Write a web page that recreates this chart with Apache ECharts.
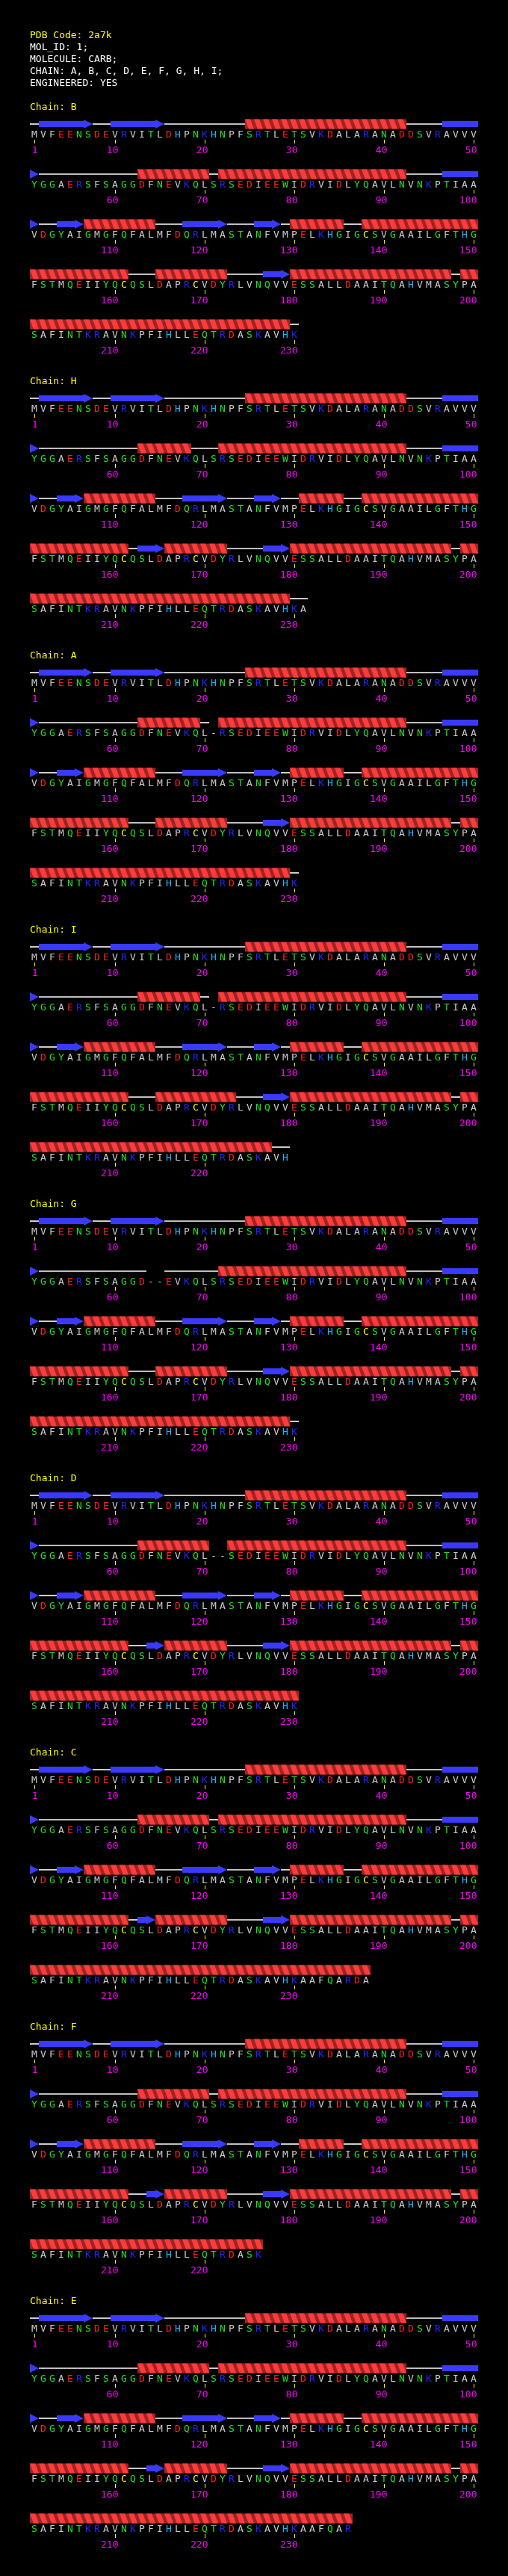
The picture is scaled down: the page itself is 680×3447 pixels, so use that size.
<!DOCTYPE html>
<html>
<head>
<meta charset="utf-8">
<script src="https://cdn.jsdelivr.net/npm/echarts@6/dist/echarts.min.js"></script>
<style>
html,body{margin:0;padding:0;background:#000;}
#chart{width:680px;height:3447px;}
</style>
</head>
<body>
<div id="chart"></div>
<script>
// ---------------- DATA ----------------
const headerLines = ["PDB Code: 2a7k", "MOL_ID: 1;", "MOLECULE: CARB;", "CHAIN: A, B, C, D, E, F, G, H, I;", "ENGINEERED: YES"];

const residues =
  "MVFEENSDEVRVITLDHPNKHNPFSRTLETSVKDALARANADDSVRAVVV" +
  "YGGAERSFSAGGDFNEVKQLSRSEDIEEWIDRVIDLYQAVLNVNKPTIAA" +
  "VDGYAIGMGFQFALMFDQRLMASTANFVMPELKHGIGCSVGAAILGFTHG" +
  "FSTMQEIIYQCQSLDAPRCVDYRLVNQVVESSALLDAAITQAHVMASYPA" +
  "SAFINTKRAVNKPFIHLLEQTRDASKAVHKAAFQARDA";

const chainIds = ["B", "H", "A", "I", "G", "D", "C", "F", "E"];
const chainLengths = [230, 231, 230, 229, 230, 230, 238, 226, 236];
const chainGaps = [[], [], [71], [71], [64, 65], [71, 72], [], [], []];

const chainHelices = [
  [[25,42],[63,70],[72,92],[107,114],[130,135],[138,161],[165,172],[180,197],[199,229]], // B
  [[25,42],[63,68],[72,92],[107,114],[131,135],[138,161],[166,172],[180,197],[199,229]], // H
  [[25,42],[63,69],[72,92],[107,114],[130,135],[138,161],[165,172],[180,197],[199,229]], // A
  [[25,42],[63,69],[72,92],[107,114],[130,135],[138,161],[165,173],[180,197],[199,227]], // I
  [[25,42],[72,92],[107,114],[130,135],[138,161],[165,172],[180,197],[199,229]],         // G
  [[25,42],[63,70],[73,92],[107,114],[130,135],[138,161],[166,172],[180,197],[199,230]], // D
  [[25,42],[63,70],[72,92],[107,114],[130,135],[138,161],[165,172],[180,197],[199,238]], // C
  [[25,42],[63,70],[72,92],[107,114],[131,135],[138,161],[166,172],[180,197],[199,226]], // F
  [[25,42],[63,70],[72,92],[107,114],[130,135],[138,161],[166,172],[180,197],[199,236]]  // E
];

const chainStrands = [
  [[2,7],[10,15],[47,51],[97,101],[104,106],[118,122],[126,128],[177,179]],            // B
  [[2,7],[10,15],[47,51],[97,101],[104,106],[118,122],[126,128],[163,165],[177,179]],  // H
  [[2,7],[10,15],[47,51],[97,101],[104,106],[118,122],[126,128],[177,179]],            // A
  [[2,7],[10,15],[47,51],[97,101],[104,106],[118,122],[126,128],[177,179]],            // I
  [[2,7],[10,15],[47,51],[97,101],[104,106],[118,122],[126,128],[177,179]],            // G
  [[2,7],[10,15],[47,51],[97,101],[104,106],[118,122],[126,128],[164,165],[177,179]],  // D
  [[2,7],[10,15],[47,51],[97,101],[104,106],[118,122],[126,128],[163,164],[177,179]],  // C
  [[2,7],[10,15],[47,51],[97,101],[104,106],[118,122],[126,128],[164,165],[177,179]],  // F
  [[2,7],[10,15],[47,51],[97,101],[104,106],[118,122],[126,128],[164,165],[177,179]]   // E
];

// ---------------- LAYOUT / STYLE ----------------
const ROW_LEN = 50;
const FIRST_TRACK = 166, ROW_STEP = 67, CHAIN_STEP = 367;
const FONT = '13px "DejaVu Sans Mono", "Liberation Mono", monospace';
const HELIX_LIGHT = '#ff3b3b', HELIX_DARK = '#9c2424', STRAND = '#3a3aff';

function residueColor(c) {
  if ('DE'.indexOf(c) >= 0) return '#ff2020';
  if ('KR'.indexOf(c) >= 0) return '#2424ff';
  if (c === 'H') return '#1eb4ff';
  if (c === 'C') return '#ffff00';
  if ('GSTNQYW'.indexOf(c) >= 0) return '#22e022';
  return '#cccccc';
}

function posRow(p) { return Math.floor((p - 1) / ROW_LEN); }
function posCol(p) { return (p - 1) % ROW_LEN + 1; }

function buildTrackItems(k) {
  const len = chainLengths[k];
  const type = new Array(len + 1).fill('C');
  chainGaps[k].forEach(p => { type[p] = 'G'; });
  chainHelices[k].forEach(([s, e]) => { for (let i = s; i <= e; i++) type[i] = 'H'; });
  chainStrands[k].forEach(([s, e]) => { for (let i = s; i <= e; i++) type[i] = 'E'; });
  const items = [];
  function addSplit(s, e, kind) {
    for (let r = posRow(s); r <= posRow(e); r++) {
      const ps = Math.max(s, r * ROW_LEN + 1), pe = Math.min(e, r * ROW_LEN + ROW_LEN);
      items.push([posCol(ps), posCol(pe), r, kind, (kind === 2 && pe === e) ? 1 : 0]);
    }
  }
  // coil runs
  let p = 1;
  while (p <= len) {
    if (type[p] === 'C') {
      let q = p;
      while (q + 1 <= len && type[q + 1] === 'C' && posRow(q + 1) === posRow(p)) q++;
      items.push([posCol(p), posCol(q), posRow(p), 0, 0]);
      p = q + 1;
    } else p++;
  }
  chainHelices[k].forEach(([s, e]) => addSplit(s, e, 1));
  chainStrands[k].forEach(([s, e]) => addSplit(s, e, 2));
  return items;
}

function renderTrack(params, api) {
  const cs = api.value(0), ce = api.value(1), row = api.value(2), kind = api.value(3), head = api.value(4);
  const L = api.coord([cs - 0.5, row]);
  const R = api.coord([ce + 0.5, row]);
  const cw = api.size([1, 0])[0];
  const yc = L[1], x0 = L[0], x1 = R[0];
  if (kind === 0) {
    return { type: 'line', shape: { x1: x0, y1: yc, x2: x1, y2: yc }, style: { stroke: '#ffffff', lineWidth: 1.6 } };
  }
  if (kind === 2) {
    const children = [];
    const barEnd = head ? x1 - cw : x1;
    if (barEnd > x0 + 0.5) children.push({ type: 'rect', shape: { x: x0, y: yc - 4, width: barEnd - x0, height: 8 }, style: { fill: STRAND } });
    if (head) children.push({ type: 'polygon', shape: { points: [[x1 - cw, yc - 6], [x1, yc], [x1 - cw, yc + 6]] }, style: { fill: STRAND } });
    return { type: 'group', children };
  }
  const children = [{ type: 'rect', shape: { x: x0, y: yc - 6.5, width: x1 - x0, height: 13 }, style: { fill: HELIX_DARK } }];
  for (let c = cs; c <= ce; c++) {
    const xa = api.coord([c - 0.5, row])[0];
    children.push({ type: 'polygon', shape: { points: [[xa, yc - 6.5], [xa + 0.6 * cw, yc - 6.5], [xa + cw, yc + 6.5], [xa + 0.4 * cw, yc + 6.5]] }, style: { fill: HELIX_LIGHT } });
  }
  return { type: 'group', children };
}

function makeResidueRenderer(seq) {
  return function (params, api) {
    const col = api.value(0), row = api.value(1), n = api.value(2);
    const pt = api.coord([col, row]);
    const ch = seq[n - 1];
    const children = [{
      type: 'text', x: pt[0], y: pt[1] + 14.5,
      style: { text: ch, fill: residueColor(ch), font: FONT, align: 'center', verticalAlign: 'middle' }
    }];
    if (n === 1 || n % 10 === 0) {
      children.push({ type: 'line', shape: { x1: pt[0] + 0.5, y1: pt[1] + 21, x2: pt[0] + 0.5, y2: pt[1] + 26 }, style: { stroke: '#ffff00', lineWidth: 1 } });
      children.push({
        type: 'text', x: pt[0] + 4.5, y: pt[1] + 35.5,
        style: { text: String(n), fill: '#ff00ff', font: FONT, align: 'right', verticalAlign: 'middle' }
      });
    }
    return { type: 'group', children };
  };
}

// ---------------- CHART ----------------
const chart = echarts.init(document.getElementById('chart'), null, { renderer: 'canvas', width: 680, height: 3447 });

const grids = [], xAxes = [], yAxes = [], series = [], graphics = [];

headerLines.forEach((t, i) => {
  graphics.push({ type: 'text', x: 40, y: 48 + 16 * i, silent: true,
    style: { text: t, fill: i === 0 ? '#ffff00' : '#ffffff', font: FONT, align: 'left', verticalAlign: 'middle' } });
});

chainIds.forEach((id, k) => {
  const trackTop = FIRST_TRACK + CHAIN_STEP * k;
  graphics.push({ type: 'text', x: 40, y: trackTop - 22, silent: true,
    style: { text: 'Chain: ' + id, fill: '#ffff00', font: FONT, align: 'left', verticalAlign: 'middle' } });

  grids.push({ left: 40, width: 600, top: trackTop - ROW_STEP / 2, height: ROW_STEP * 5, show: false });
  xAxes.push({ gridIndex: k, type: 'value', min: 0.5, max: 50.5, show: false });
  yAxes.push({ gridIndex: k, type: 'value', min: -0.5, max: 4.5, inverse: true, show: false });

  const len = chainLengths[k];
  const seq = residues.slice(0, len).split('').map((c, i) => chainGaps[k].indexOf(i + 1) >= 0 ? '-' : c).join('');
  const resItems = [];
  for (let p = 1; p <= len; p++) resItems.push([posCol(p), posRow(p), p]);

  series.push({
    type: 'custom', name: 'ss' + id, xAxisIndex: k, yAxisIndex: k, silent: true, animation: false,
    data: buildTrackItems(k), encode: { x: [0, 1], y: 2 }, renderItem: renderTrack
  });
  series.push({
    type: 'custom', name: 'seq' + id, xAxisIndex: k, yAxisIndex: k, silent: true, animation: false,
    data: resItems, encode: { x: 0, y: 1 }, renderItem: makeResidueRenderer(seq)
  });
});

chart.setOption({
  backgroundColor: '#000000',
  animation: false,
  grid: grids,
  xAxis: xAxes,
  yAxis: yAxes,
  graphic: graphics,
  series: series
});
</script>
</body>
</html>
